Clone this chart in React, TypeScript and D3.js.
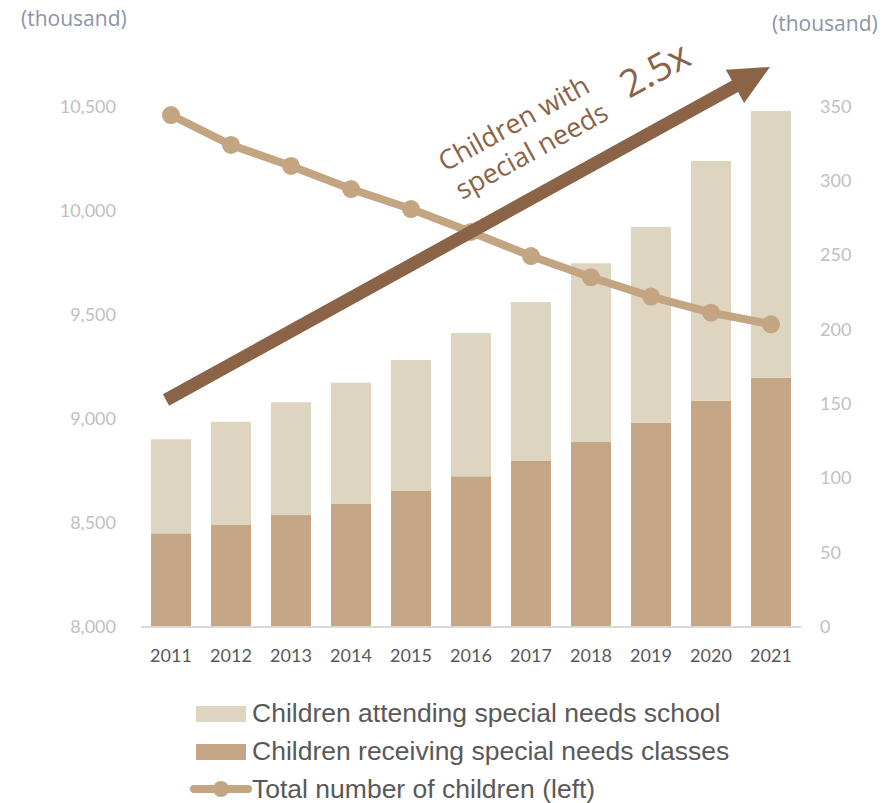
import React from "react";
import * as d3 from "d3";

const years = ["2011","2012","2013","2014","2015","2016","2017","2018","2019","2020","2021"];
const classes = [62.7,68.3,75.0,82.5,91.2,101.1,111.4,124.2,137.2,152.0,167.5];
const school = [63.3,69.5,75.9,81.6,88.2,96.4,107.0,120.3,131.7,161.3,179.5];
const total = [10459,10315,10214,10103,10007,9897,9781,9679,9586,9509,9453];
const leftTicks = [8000,8500,9000,9500,10000,10500];
const rightTicks = [0,50,100,150,200,250,300,350];
const legendLabels = ["Children attending special needs school","Children receiving special needs classes","Total number of children (left)"];

const W = 890, H = 803;
const C_SCHOOL = "#ddd5bf";
const C_CLASS = "#c4a585";
const C_LINE = "#c4a582";
const C_ARROW = "#8b6347";

export default function App() {
  const x = d3.scaleBand<string>().domain(years).range([141, 801]).paddingInner(1/3).paddingOuter(1/6);
  const yL = d3.scaleLinear().domain([8000, 10500]).range([626.5, 106.5]);
  const yR = d3.scaleLinear().domain([0, 350]).range([626.5, 106.5]);
  const stackData = years.map((y, i) => ({ year: y, classes: classes[i], school: school[i] }));
  const stack = d3.stack<any>().keys(["classes", "school"])(stackData);
  const colors: Record<string,string> = { classes: C_CLASS, school: C_SCHOOL };
  const line = d3.line<number>().x((_, i) => (x(years[i]) as number) + x.bandwidth() / 2).y(v => yL(v));

  // arrow annotation
  const start: [number, number] = [166, 400];
  const tip: [number, number] = [770, 67];
  const dx = tip[0] - start[0], dy = tip[1] - start[1];
  const len = Math.hypot(dx, dy);
  const u = [dx / len, dy / len];
  const n = [-u[1], u[0]];
  const sw = 6.5, hw = 19, hl = 40;
  const hb = [tip[0] - u[0] * hl, tip[1] - u[1] * hl];
  const pts = [
    [start[0] + n[0] * sw, start[1] + n[1] * sw],
    [hb[0] + n[0] * sw, hb[1] + n[1] * sw],
    [hb[0] + n[0] * hw, hb[1] + n[1] * hw],
    tip,
    [hb[0] - n[0] * hw, hb[1] - n[1] * hw],
    [hb[0] - n[0] * sw, hb[1] - n[1] * sw],
    [start[0] - n[0] * sw, start[1] - n[1] * sw],
  ];
  const ang = Math.atan2(dy, dx) * 180 / Math.PI;

  const tickFont = "Lato, Calibri, sans-serif";
  return (
    <svg width={W} height={H} style={{ position: "absolute", left: 0, top: 0, background: "#fff" }}>
      <text x={21} y={26} fontFamily="'Open Sans', sans-serif" fontSize={21} fill="#8b95a7">(thousand)</text>
      <text x={772} y={31} fontFamily="'Open Sans', sans-serif" fontSize={21} fill="#8b95a7">(thousand)</text>
      {leftTicks.map(t => (
        <text key={t} x={116} y={yL(t)} dy="0.35em" textAnchor="end" fontFamily={tickFont} fontSize={18} fill="#bfbfbf">{d3.format(",")(t)}</text>
      ))}
      {rightTicks.map(t => (
        <text key={t} x={820} y={yR(t)} dy="0.35em" textAnchor="start" fontFamily={tickFont} fontSize={18} fill="#bfbfbf">{t}</text>
      ))}
      {stack.map(s => (
        <g key={s.key} fill={colors[s.key]}>
          {s.map((d, i) => (
            <rect key={i} x={x(years[i])} width={x.bandwidth()} y={yR(d[1])} height={yR(d[0]) - yR(d[1])} />
          ))}
        </g>
      ))}
      <line x1={141} x2={801} y1={627} y2={627} stroke="#d9d9d9" strokeWidth={2} />
      {years.map(y => (
        <text key={y} x={(x(y) as number) + x.bandwidth() / 2} y={662} textAnchor="middle" fontFamily={tickFont} fontSize={18} fill="#595959">{y}</text>
      ))}
      <path d={line(total) || ""} fill="none" stroke={C_LINE} strokeWidth={8} strokeLinejoin="round" />
      {total.map((v, i) => (
        <circle key={i} cx={(x(years[i]) as number) + x.bandwidth() / 2} cy={yL(v)} r={9} fill={C_LINE} />
      ))}
      <polygon points={pts.map(p => p.join(",")).join(" ")} fill={C_ARROW} />
      <g fill={C_ARROW} fontFamily="'Open Sans', sans-serif">
        <text transform={`translate(445,172) rotate(${ang})`} fontSize={27}>Children with</text>
        <text transform={`translate(462,200) rotate(${ang})`} fontSize={27}>special needs</text>
        <text transform={`translate(629,99) rotate(${ang})`} fontSize={38}>2.5x</text>
      </g>
      <g fontFamily="'Liberation Sans', Arial, sans-serif" fontSize={26.5} fill="#595959">
        <rect x={196} y={706} width={50} height={16} fill={C_SCHOOL} />
        <text x={252} y={722}>{legendLabels[0]}</text>
        <rect x={196} y={744} width={50} height={16} fill={C_CLASS} />
        <text x={252} y={760}>{legendLabels[1]}</text>
        <line x1={194} x2={248} y1={789} y2={789} stroke={C_LINE} strokeWidth={8} strokeLinecap="round" />
        <circle cx={221} cy={789} r={8} fill={C_LINE} />
        <text x={252} y={798}>{legendLabels[2]}</text>
      </g>
    </svg>
  );
}
